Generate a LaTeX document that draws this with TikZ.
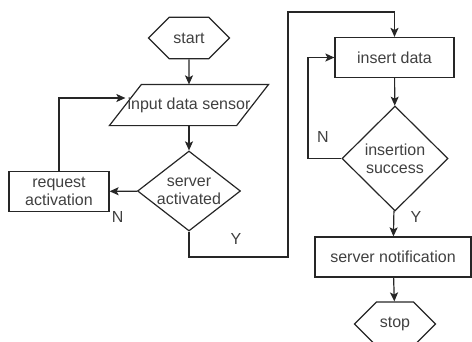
\documentclass[tikz,border=0pt]{standalone}
\usepackage{fontspec}
\setmainfont{Liberation Sans}
\usetikzlibrary{shapes.geometric}
\usetikzlibrary{shapes.misc}
\usetikzlibrary{arrows.meta}

\begin{document}
\begin{tikzpicture}[x=1pt, y=-1pt, line width=1.2pt,
every node/.style={font=\fontsize{16}{18}\selectfont, text=black!75, align=center},
term/.style={draw=black!85, chamfered rectangle, chamfered rectangle xsep=15pt, chamfered rectangle ysep=20pt, minimum width=81pt, minimum height=40pt, inner sep=0pt},
proc/.style={draw=black!85, rectangle, minimum height=40pt, inner sep=0pt},
dec/.style={draw=black!85, diamond, inner sep=-2pt},
io/.style={rectangle, minimum width=126pt, minimum height=40pt, inner sep=0pt},
arr/.style={draw=black!85, -{Stealth[length=9pt, width=8pt, inset=2pt]}},
lbl/.style={inner sep=0pt}]
\useasboundingbox (0,0) rectangle (472,341);
\node[term] (start) at (189,38) {start};
\node[io] (input) at (189,105) {input data sensor};
\draw[draw=black!85] ([xshift=16pt]input.north west) -- ([xshift=16pt]input.north east) -- ([xshift=-16pt]input.south east) -- ([xshift=-16pt]input.south west) -- cycle;
\node[dec, aspect=1.29, minimum width=103pt, minimum height=80pt] (act) at (189,191) {server\\activated};
\node[proc, minimum width=100pt] (req) at (59,191.5) {request\\activation};
\node[proc, minimum width=119pt] (ins) at (394.5,57.5) {insert data};
\node[dec, minimum width=106pt, minimum height=105pt] (succ) at (395,158.5) {insertion\\success};
\node[proc, minimum width=156pt] (notif) at (393,257) {server notification};
\node[term] (stop) at (395,324) {stop};
\coordinate (c1) at (288,257);
\coordinate (c2) at (288,12);
\coordinate (c3) at (308,158.5);

\draw[arr] (start) -- (input);
\draw[arr] (input) -- (act);
\draw[arr] (act) -- node[lbl, pos=1, shift={(8,26)}] {N} (req);
\draw[arr] (req) |- ([yshift=7pt]input.west);
\draw[arr] (act) |- node[lbl, pos=0, shift={(47,7)}] {Y} (c1) -- (c2) -| (ins);
\draw[arr] (ins) -- (succ);
\draw[arr] (succ) -- (c3) |- node[lbl, pos=0, shift={(15,-21.5)}] {N} (ins);
\draw[arr] (succ) -- node[lbl, pos=0, shift={(22,6)}] {Y} (notif);
\draw[arr] (notif) -- (stop);
\end{tikzpicture}
\end{document}
